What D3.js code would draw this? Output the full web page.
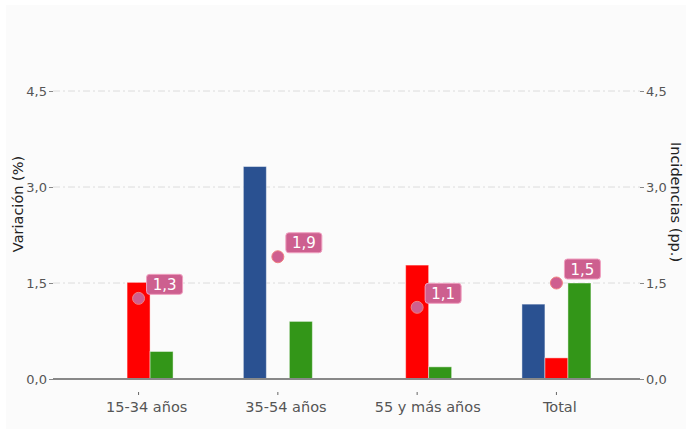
<!DOCTYPE html>
<html>
<head>
<meta charset="utf-8">
<script src="https://cdn.jsdelivr.net/npm/d3@7/dist/d3.min.js"></script>
<style>
  html, body { margin: 0; padding: 0; background: #ffffff; }
  svg { display: block; font-family: "DejaVu Sans", sans-serif; }
</style>
</head>
<body>
<svg id="chart" width="686" height="429"></svg>
<script>
// ---- data ----
const categories = ["15-34 años", "35-54 años", "55 y más años", "Total"];
const seriesNames = ["s1", "s2", "s3"];
const seriesBlue  = [null, 3.32, null, 1.17];
const seriesRed   = [1.51, null, 1.78, 0.33];
const seriesGreen = [0.43, 0.90, 0.19, 1.50];
const pointValues = [1.26, 1.91, 1.12, 1.50];
const yTicks = [0, 1.5, 3.0, 4.5];
const leftTitle = "Variación (%)";
const rightTitle = "Incidencias (pp.)";

const seriesColors = ["#2a5191", "#ff0000", "#339618"];
const seriesValues = [seriesBlue, seriesRed, seriesGreen];

const locale = d3.formatLocale({decimal: ",", thousands: ".", grouping: [3], currency: ["", "€"]});
const fmt1 = locale.format(".1f");

const svg = d3.select("#chart");

// panel background
svg.append("rect").attr("x", 6).attr("y", 5).attr("width", 680).attr("height", 424).attr("fill", "#fbfbfb");

const plotLeft = 53, plotRight = 640;
const x = d3.scaleBand().domain(categories).range([55, plotRight]).paddingOuter(0.1).paddingInner(0);
const xc = c => x(c) + x.bandwidth() / 2;
const xInner = d3.scaleBand().domain(seriesNames).range([-34.5, 34.5]);
const y = d3.scaleLinear().domain([0, 4.5]).range([379, 91]);

// gridlines
svg.append("g").selectAll("line").data(yTicks.filter(t => t > 0)).join("line")
  .attr("x1", plotLeft).attr("x2", plotRight)
  .attr("y1", d => y(d)).attr("y2", d => y(d))
  .attr("stroke", "#dcdcdc").attr("stroke-width", 1)
  .attr("stroke-dasharray", "7,3,2,3");

// left axis
const leftAxis = d3.axisLeft(y).tickValues(yTicks).tickFormat(fmt1).tickSize(4).tickPadding(2);
const gl = svg.append("g").attr("transform", `translate(${plotLeft},0)`).call(leftAxis);
gl.select(".domain").remove();
gl.selectAll(".tick line").attr("stroke", "#888");
gl.selectAll(".tick text").attr("fill", "#555").style("font-size", "13px").style("font-family", "DejaVu Sans");

// right axis
const rightAxis = d3.axisRight(y).tickValues(yTicks).tickFormat(fmt1).tickSize(4).tickPadding(2);
const gr = svg.append("g").attr("transform", `translate(${plotRight},0)`).call(rightAxis);
gr.select(".domain").remove();
gr.selectAll(".tick line").attr("stroke", "#888");
gr.selectAll(".tick text").attr("fill", "#555").style("font-size", "13px").style("font-family", "DejaVu Sans");

// bars
const barData = [];
categories.forEach((c, i) => {
  seriesNames.forEach((s, j) => {
    const v = seriesValues[j][i];
    if (v !== null) barData.push({c, s, v, color: seriesColors[j]});
  });
});
svg.append("g").selectAll("rect").data(barData).join("rect")
  .attr("x", d => xc(d.c) + xInner(d.s))
  .attr("width", xInner.bandwidth())
  .attr("y", d => y(d.v))
  .attr("height", d => y(0) - y(d.v))
  .attr("fill", d => d.color)
  .attr("stroke", "rgba(255,255,255,0.45)")
  .attr("stroke-width", 1);

// x axis baseline
svg.append("line").attr("x1", plotLeft).attr("x2", plotRight)
  .attr("y1", y(0)).attr("y2", y(0)).attr("stroke", "#888").attr("stroke-width", 2);

// x axis ticks + labels
const bottomAxis = d3.axisBottom(x).tickSize(3).tickPadding(7);
const gb = svg.append("g").attr("transform", "translate(0,392)").call(bottomAxis);
gb.select(".domain").remove();
gb.selectAll(".tick line").attr("stroke", "#666");
gb.selectAll(".tick text").attr("fill", "#555").style("font-size", "14.5px").style("font-family", "DejaVu Sans")
  .attr("text-anchor", "start")
  .attr("dy", "0.71em")
  .attr("x", function() { return -0.4 * this.getComputedTextLength(); });

// points
const pts = categories.map((c, i) => ({c, v: pointValues[i]}));
svg.append("g").selectAll("circle").data(pts).join("circle")
  .attr("cx", d => xc(d.c)).attr("cy", d => y(d.v)).attr("r", 6)
  .attr("fill", "#cf5f8f").attr("stroke", "#f08080").attr("stroke-width", 1);

// point labels
const lg = svg.append("g").selectAll("g").data(pts).join("g")
  .attr("transform", d => `translate(${xc(d.c) + 8},${y(d.v) - 24})`);
lg.append("rect").attr("width", 36).attr("height", 20).attr("rx", 3)
  .attr("fill", "#cd5f8f").attr("stroke", "#f0a0c0").attr("stroke-width", 1);
lg.append("text").attr("x", 18).attr("y", 15.5).attr("text-anchor", "middle")
  .attr("fill", "#ffffff").style("font-size", "15px").text(d => fmt1(d.v));

// axis titles
svg.append("text").attr("transform", "translate(23,204) rotate(-90)")
  .attr("text-anchor", "middle").attr("fill", "#222").style("font-size", "14.5px").text(leftTitle);
svg.append("text").attr("transform", "translate(671,202) rotate(90)")
  .attr("text-anchor", "middle").attr("fill", "#222").style("font-size", "14.5px").text(rightTitle);
</script>
</body>
</html>
